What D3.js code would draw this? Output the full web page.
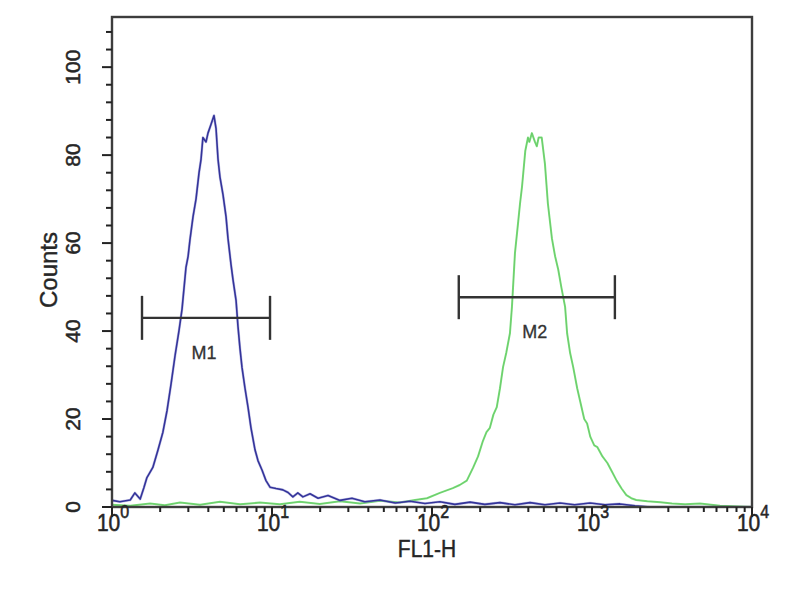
<!DOCTYPE html>
<html><head><meta charset="utf-8">
<script src="https://cdn.jsdelivr.net/npm/d3@7"></script>
<style>body{margin:0;background:#fff}svg{display:block}</style></head>
<body>
<svg id="c" width="800" height="600"></svg>
<script>
// ---- data ----
const blueFL1 = [1.00,1.12,1.30,1.39,1.50,1.58,1.65,1.80,1.94,2.08,2.21,2.34,2.48,2.62,2.74,2.90,2.99,3.07,3.21,3.35,3.50,3.60,3.70,3.87,3.98,4.16,4.34,4.47,4.60,4.73,4.94,5.16,5.31,5.55,5.71,5.96,6.13,6.31,6.49,6.78,7.08,7.39,7.83,8.18,8.66,9.17,9.72,10.6,11.7,12.6,13.5,14.5,15.6,17.3,19.4,22.4,26.6,31.6,38.0,47.3,58.9,72.9,90.4,112,139,173,214,266,330,410,508,631,779,972,1206,1496,1857,2305,10000];
const blueCounts = [1.5,1.2,1.6,3.2,1.8,4.3,6.6,9,13,17,22,28,34.5,40,45,54.5,57,60.7,66,70,76,79,84,83,85,87,89,86,79,75,71,66,61,55,51.6,47,41,36,31.8,27,22.7,18,13,10.5,8.4,6,4.5,4.2,3.9,3.3,2.3,3.2,2.3,3.0,2.0,2.6,1.5,2.0,1.2,1.6,0.9,1.3,0.8,1.2,0.6,1.1,0.6,1.0,0.5,1.0,0.5,0.9,0.5,0.9,0.5,0.7,0.3,0,0];
const greenFL1 = [1.00,1.30,1.73,2.14,2.66,3.55,4.73,6.31,8.40,11.2,14.9,19.9,26.6,35.5,47.3,63.1,78.3,93.0,112,135,149,165,181,194,208,219,230,242,254,266,278,291,307,316,330,346,355,365,383,398,406,421,440,452,464,485,508,530,562,588,615,643,679,699,730,763,808,844,894,932,975,1033,1081,1162,1248,1334,1426,1530,1640,1760,1889,2218,2672,3162,3817,4732,6310,10000];
const greenCounts = [0.5,0.3,0.8,0.4,1.0,0.5,1.2,0.6,1.0,0.6,1.2,0.7,1.3,0.8,1.4,1.0,1.6,2.0,3.2,4.3,5,6,9,11.5,15,17,18,21,22.7,27,31.8,35,39.5,45.5,57.7,65,69,72.7,81,84,83,85,83,82,84,84,78,69,61,57,54,50,45.5,39.5,35,31.8,27,24,20,19,16,14,13.6,11.5,10,8,6,4.2,2.7,2.0,1.6,1.3,1.1,0.8,0.6,0.8,0.3,0];
const markerNames = ["M1","M2"];
const markerStart = [1.54,147];
const markerEnd = [9.72,1390];
const markerLevel = [43,47.7];
const yTickValues = [0,20,40,60,80,100];
const xTickExponents = [0,1,2,3,4];
const xAxisTitle = "FL1-H";
const yAxisTitle = "Counts";

// ---- layout ----
const L = 112, R = 752, T = 17, B = 507;
const svg = d3.select("#c");
const x = d3.scaleLog().domain([1, 10000]).range([L, R]);
const y = d3.scaleLinear().domain([0, 111.4]).range([B, T]);
const font = "'Liberation Sans', Arial, sans-serif";
const txt = "#262626";

svg.append("rect").attr("width",800).attr("height",600).attr("fill","#fff");

svg.append("defs").append("clipPath").attr("id","clip")
  .append("rect").attr("x",L).attr("y",T-2).attr("width",R-L).attr("height",B-T+2);

// curves
const line = d3.line().x(d=>x(d[0])).y(d=>y(d[1])).curve(d3.curveLinear);
const g = svg.append("g").attr("clip-path","url(#clip)");
const greenData = greenFL1.map((v,i)=>[v,greenCounts[i]]);
const blueData = blueFL1.map((v,i)=>[v,blueCounts[i]]);
g.append("path").datum(greenData)
  .attr("d",line).attr("fill","none").attr("stroke","#7be07b").attr("stroke-width",2).attr("stroke-linejoin","round");
g.append("path").datum(greenData)
  .attr("d",line).attr("fill","none").attr("stroke","#4f9f4f").attr("stroke-width",0.6).attr("opacity",0.55);
g.append("path").datum(blueData)
  .attr("d",line).attr("fill","none").attr("stroke","#8a8ad0").attr("stroke-width",2.6).attr("opacity",0.5).attr("stroke-linejoin","round");
g.append("path").datum(blueData)
  .attr("d",line).attr("fill","none").attr("stroke","#34349a").attr("stroke-width",1.6).attr("stroke-linejoin","round");

// frame
svg.append("rect").attr("x",L).attr("y",T).attr("width",R-L).attr("height",B-T)
  .attr("fill","none").attr("stroke","#3d3d3d").attr("stroke-width",2.4);

// y ticks
const yMinor = d3.range(0, 109, 4);
svg.append("g").selectAll("line").data(yMinor).join("line")
  .attr("x1",d=> d%20===0 ? L-10 : L-6).attr("x2",L)
  .attr("y1",d=>y(d)).attr("y2",d=>y(d))
  .attr("stroke","#222").attr("stroke-width",2);
svg.append("g").selectAll("text").data(yTickValues).join("text")
  .attr("transform",d=>`translate(80,${y(d)}) rotate(-90)`)
  .attr("text-anchor","middle")
  .attr("font-family",font).attr("font-size",21).attr("fill",txt)
  .attr("stroke",txt).attr("stroke-width",0.5)
  .text(d=>d);

// x ticks
const xMinor = [];
for (let e=0;e<4;e++) for (let k=2;k<=9;k++) xMinor.push(k*Math.pow(10,e));
svg.append("g").selectAll("line").data(xMinor).join("line")
  .attr("x1",d=>x(d)).attr("x2",d=>x(d)).attr("y1",B).attr("y2",B+5)
  .attr("stroke","#222").attr("stroke-width",2);
const xMajor = xTickExponents.map(e=>Math.pow(10,e));
svg.append("g").selectAll("line").data(xMajor).join("line")
  .attr("x1",d=>x(d)).attr("x2",d=>x(d)).attr("y1",B).attr("y2",B+10)
  .attr("stroke","#222").attr("stroke-width",2);
const xl = svg.append("g").selectAll("text").data(xTickExponents).join("text")
  .attr("transform",d=>`translate(${x(Math.pow(10,d))+1},531) scale(1,1.15)`)
  .attr("text-anchor","middle")
  .attr("font-family",font).attr("font-size",21).attr("fill",txt)
  .attr("stroke",txt).attr("stroke-width",0.5);
xl.append("tspan").text("10");
xl.append("tspan").attr("dy",-11).attr("font-size",16).text(d=>d);

// axis titles
svg.append("text").attr("transform","translate(427,557) scale(1,1.15)").attr("text-anchor","middle")
  .attr("font-family",font).attr("font-size",21).attr("fill",txt)
  .attr("stroke",txt).attr("stroke-width",0.4).text(xAxisTitle);
svg.append("text").attr("transform","translate(57,270) rotate(-90)").attr("text-anchor","middle")
  .attr("font-family",font).attr("font-size",24).attr("fill",txt)
  .attr("stroke",txt).attr("stroke-width",0.4).text(yAxisTitle);

// markers
const mk = svg.append("g").selectAll("g").data(markerNames).join("g");
mk.append("line").attr("x1",(d,i)=>x(markerStart[i])).attr("x2",(d,i)=>x(markerEnd[i]))
  .attr("y1",(d,i)=>y(markerLevel[i])).attr("y2",(d,i)=>y(markerLevel[i]))
  .attr("stroke","#333").attr("stroke-width",2.4);
mk.append("line").attr("x1",(d,i)=>x(markerStart[i])).attr("x2",(d,i)=>x(markerStart[i]))
  .attr("y1",(d,i)=>y(markerLevel[i])-22).attr("y2",(d,i)=>y(markerLevel[i])+22)
  .attr("stroke","#333").attr("stroke-width",2.4);
mk.append("line").attr("x1",(d,i)=>x(markerEnd[i])).attr("x2",(d,i)=>x(markerEnd[i]))
  .attr("y1",(d,i)=>y(markerLevel[i])-22).attr("y2",(d,i)=>y(markerLevel[i])+22)
  .attr("stroke","#333").attr("stroke-width",2.4);
mk.append("text")
  .attr("x",(d,i)=>(x(markerStart[i])+x(markerEnd[i]))/2 - 2)
  .attr("y",(d,i)=>y(markerLevel[i])+41)
  .attr("text-anchor","middle").attr("font-family",font).attr("font-size",18).attr("fill","#333")
  .attr("stroke","#333").attr("stroke-width",0.3)
  .text(d=>d);
</script>
</body></html>
